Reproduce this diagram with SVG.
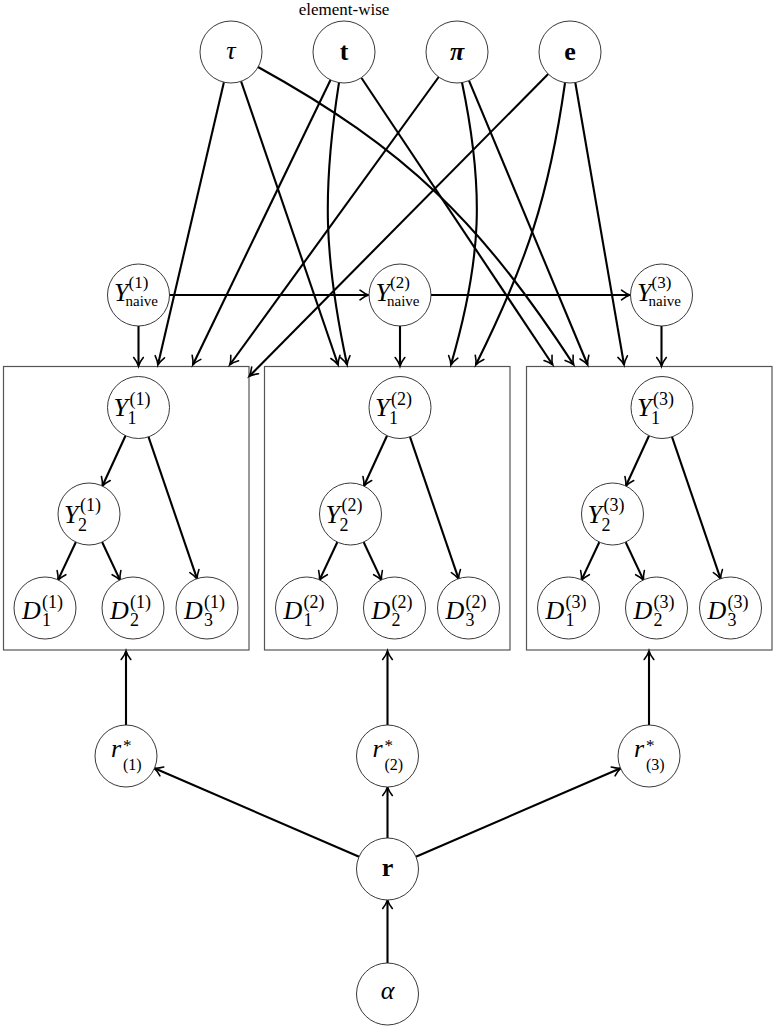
<svg xmlns="http://www.w3.org/2000/svg" width="775" height="1028" viewBox="0 0 775 1028">
<style>
.bg{fill:#fff}
.nd{fill:#fff;stroke:#222;stroke-width:0.9}
.box{fill:none;stroke:#555;stroke-width:1.2}
.cn path{fill:none;stroke:#000;stroke-width:2.1;marker-end:url(#arr)}
text{font-family:"Liberation Serif","Times New Roman",serif;fill:#000}
.m{font-size:26px;font-style:italic}
.s{font-size:18px}
.b{font-size:26px;font-weight:bold}
</style>
<defs>
<marker id="arr" viewBox="-9 -6 11 12" refX="0" refY="0" markerWidth="11" markerHeight="12" markerUnits="userSpaceOnUse" orient="auto" overflow="visible">
<path d="M-8,-4.8 C-4.8,-2.3 -1.7,-0.6 0.5,0 C-1.7,0.6 -4.8,2.3 -8,4.8" fill="none" stroke="#000" stroke-width="1.6" stroke-linecap="round"/>
</marker>
</defs>
<rect class="bg" x="0" y="0" width="775" height="1028"/>

<g id="boxes">
<rect id="plate1" class="box" x="3.5" y="366.5" width="245.5" height="283.5"/>
<rect id="plate2" class="box" x="264.5" y="366.5" width="245.5" height="283.5"/>
<rect id="plate3" class="box" x="526.5" y="366.5" width="245.5" height="283.5"/>
</g>

<g id="connectors" class="cn">
<path d="M169.5,295 H368"/>
<path d="M431,295 H629.5"/>
<path d="M138.5,326 V365.5"/>
<path d="M400,326 V365.5"/>
<path d="M661.5,326 V365.5"/>
<path d="M223.9,82.2 L158,364.5"/>
<path d="M241.1,81.3 L338,364.5"/>
<path d="M258,67 C406,148.7 480.7,222.4 573.5,364.5"/>
<path d="M330.5,80 L193,364.5"/>
<path d="M339,82.6 C322,191.1 324,256.6 347,364.5"/>
<path d="M361.5,78 L552.5,364.5"/>
<path d="M438.7,77 L230,364.5"/>
<path d="M462,82.5 C484.5,190 482,258 451,364.5"/>
<path d="M469,80.6 L587.5,364.5"/>
<path d="M548.2,74 L249.5,376"/>
<path d="M565,83 C548.8,196.7 527.2,261.3 476,364.5"/>
<path d="M575.3,82.5 L624,364.5"/>
<path d="M125.5,435.7 L102.5,485.8"/>
<path d="M148.5,436.8 L197,578.7"/>
<path d="M75.9,542 L58.1,579.9"/>
<path d="M102.1,542 L119.9,579.9"/>
<path d="M387,435.7 L364,485.8"/>
<path d="M410,436.8 L458.5,578.7"/>
<path d="M337.4,542 L319.6,579.9"/>
<path d="M363.6,542 L381.4,579.9"/>
<path d="M649,435.7 L626,485.8"/>
<path d="M672,436.8 L720.5,578.7"/>
<path d="M599.4,542 L581.6,579.9"/>
<path d="M625.6,542 L643.4,579.9"/>
<path d="M126,725 V651.5"/>
<path d="M387.5,725 V651.5"/>
<path d="M649,725 V651.5"/>
<path d="M359.1,856.7 L154.5,768.3"/>
<path d="M387.5,838 V787.5"/>
<path d="M415.9,856.7 L620.5,768.3"/>
<path d="M387.5,963 V900.5"/>
</g>

<g id="tau"><circle class="nd" cx="231" cy="52" r="31"/><text class="m" x="231" y="59" text-anchor="middle">τ</text></g>
<g id="t"><circle class="nd" cx="344" cy="52" r="31"/><text class="b" x="344" y="60" text-anchor="middle">t</text><text x="344" y="15" text-anchor="middle" font-size="17">element-wise</text></g>
<g id="pi"><circle class="nd" cx="457" cy="52" r="31"/><text class="b" font-style="italic" x="457" y="60" text-anchor="middle">π</text></g>
<g id="e"><circle class="nd" cx="570" cy="52" r="31"/><text class="b" x="570" y="60" text-anchor="middle">e</text></g>

<g id="ynaive1"><circle class="nd" cx="138.5" cy="295" r="31"/><text class="m" font-size="25" x="114" y="301">Y</text><text x="128.5" y="288" font-size="17">(1)</text><text x="125.5" y="306" font-size="15">naive</text></g>
<g id="ynaive2"><circle class="nd" cx="400" cy="295" r="31"/><text class="m" font-size="25" x="375.5" y="301">Y</text><text x="390" y="288" font-size="17">(2)</text><text x="387" y="306" font-size="15">naive</text></g>
<g id="ynaive3"><circle class="nd" cx="661.5" cy="295" r="31"/><text class="m" font-size="25" x="637" y="301">Y</text><text x="651.5" y="288" font-size="17">(3)</text><text x="648.5" y="306" font-size="15">naive</text></g>

<g id="Y1_1"><circle class="nd" cx="138.5" cy="407.5" r="31"/><text class="m" x="113.5" y="416">Y</text><text class="s" x="129.5" y="404.5">(1)</text><text class="s" x="127.5" y="424">1</text></g>
<g id="Y2_1"><circle class="nd" cx="89" cy="514" r="31"/><text class="m" x="64" y="522.5">Y</text><text class="s" x="80" y="511">(1)</text><text class="s" x="78" y="530.5">2</text></g>
<g id="D1_1"><circle class="nd" cx="45" cy="608" r="31"/><text class="m" x="22" y="619">D</text><text class="s" x="42" y="607.5">(1)</text><text class="s" x="42" y="626">1</text></g>
<g id="D2_1"><circle class="nd" cx="133" cy="608" r="31"/><text class="m" x="110" y="619">D</text><text class="s" x="130" y="607.5">(1)</text><text class="s" x="130" y="626">2</text></g>
<g id="D3_1"><circle class="nd" cx="207" cy="608" r="31"/><text class="m" x="184" y="619">D</text><text class="s" x="204" y="607.5">(1)</text><text class="s" x="204" y="626">3</text></g>

<g id="Y1_2"><circle class="nd" cx="400" cy="407.5" r="31"/><text class="m" x="375" y="416">Y</text><text class="s" x="391" y="404.5">(2)</text><text class="s" x="389" y="424">1</text></g>
<g id="Y2_2"><circle class="nd" cx="350.5" cy="514" r="31"/><text class="m" x="325.5" y="522.5">Y</text><text class="s" x="341.5" y="511">(2)</text><text class="s" x="339.5" y="530.5">2</text></g>
<g id="D1_2"><circle class="nd" cx="306.5" cy="608" r="31"/><text class="m" x="283.5" y="619">D</text><text class="s" x="303.5" y="607.5">(2)</text><text class="s" x="303.5" y="626">1</text></g>
<g id="D2_2"><circle class="nd" cx="394.5" cy="608" r="31"/><text class="m" x="371.5" y="619">D</text><text class="s" x="391.5" y="607.5">(2)</text><text class="s" x="391.5" y="626">2</text></g>
<g id="D3_2"><circle class="nd" cx="468.5" cy="608" r="31"/><text class="m" x="445.5" y="619">D</text><text class="s" x="465.5" y="607.5">(2)</text><text class="s" x="465.5" y="626">3</text></g>

<g id="Y1_3"><circle class="nd" cx="662" cy="407.5" r="31"/><text class="m" x="637" y="416">Y</text><text class="s" x="653" y="404.5">(3)</text><text class="s" x="651" y="424">1</text></g>
<g id="Y2_3"><circle class="nd" cx="612.5" cy="514" r="31"/><text class="m" x="587.5" y="522.5">Y</text><text class="s" x="603.5" y="511">(3)</text><text class="s" x="601.5" y="530.5">2</text></g>
<g id="D1_3"><circle class="nd" cx="568.5" cy="608" r="31"/><text class="m" x="545.5" y="619">D</text><text class="s" x="565.5" y="607.5">(3)</text><text class="s" x="565.5" y="626">1</text></g>
<g id="D2_3"><circle class="nd" cx="656.5" cy="608" r="31"/><text class="m" x="633.5" y="619">D</text><text class="s" x="653.5" y="607.5">(3)</text><text class="s" x="653.5" y="626">2</text></g>
<g id="D3_3"><circle class="nd" cx="730.5" cy="608" r="31"/><text class="m" x="707.5" y="619">D</text><text class="s" x="727.5" y="607.5">(3)</text><text class="s" x="727.5" y="626">3</text></g>

<g id="rstar1"><circle class="nd" cx="126" cy="756" r="31"/><text class="m" font-size="24" x="111" y="757">r</text><text x="123" y="751" font-size="17">*</text><text x="123" y="770" font-size="16">(1)</text></g>
<g id="rstar2"><circle class="nd" cx="387.5" cy="756" r="31"/><text class="m" font-size="24" x="372.5" y="757">r</text><text x="384.5" y="751" font-size="17">*</text><text x="384.5" y="770" font-size="16">(2)</text></g>
<g id="rstar3"><circle class="nd" cx="649" cy="756" r="31"/><text class="m" font-size="24" x="634" y="757">r</text><text x="646" y="751" font-size="17">*</text><text x="646" y="770" font-size="16">(3)</text></g>

<g id="r"><circle class="nd" cx="387.5" cy="869" r="31"/><text class="b" x="387.5" y="876" text-anchor="middle">r</text></g>
<g id="alpha"><circle class="nd" cx="387.5" cy="994" r="31"/><text class="m" font-size="24" x="387.5" y="999" text-anchor="middle">α</text></g>
</svg>
